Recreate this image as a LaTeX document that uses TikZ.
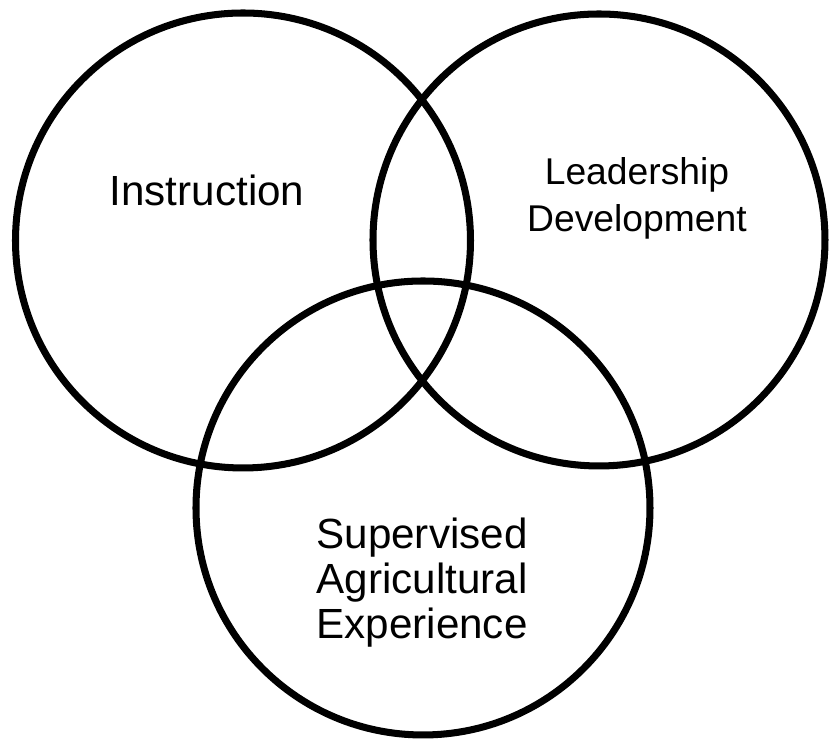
\documentclass[tikz,border=0pt]{standalone}
\usepackage{fontspec}
\setmainfont{Liberation Sans}

\tikzset{
    ring/.style={draw, line width=2pt},
    label/.style={align=center, inner sep=0pt, font=\fontsize{12}{12.8}\selectfont}
}

\begin{document}
\begin{tikzpicture}
        \useasboundingbox (0,0) rectangle (8.3,-7.4);

        \draw[ring] (2.43,-2.405) circle (2.275);
        \draw[ring] (5.99,-2.40) circle (2.26);
        \draw[ring] (4.23,-5.08) circle (2.27);

        \node[label] (instruction) at (2.07,-1.90) {Instruction};
        \node[label, font=\fontsize{10.6}{13.4}\selectfont] (leadership) at (6.37,-1.98) {Leadership\\Development};
        \node[label] (sae) at (4.22,-5.83) {Supervised\\Agricultural\\Experience};

    \end{tikzpicture}
\end{document}
